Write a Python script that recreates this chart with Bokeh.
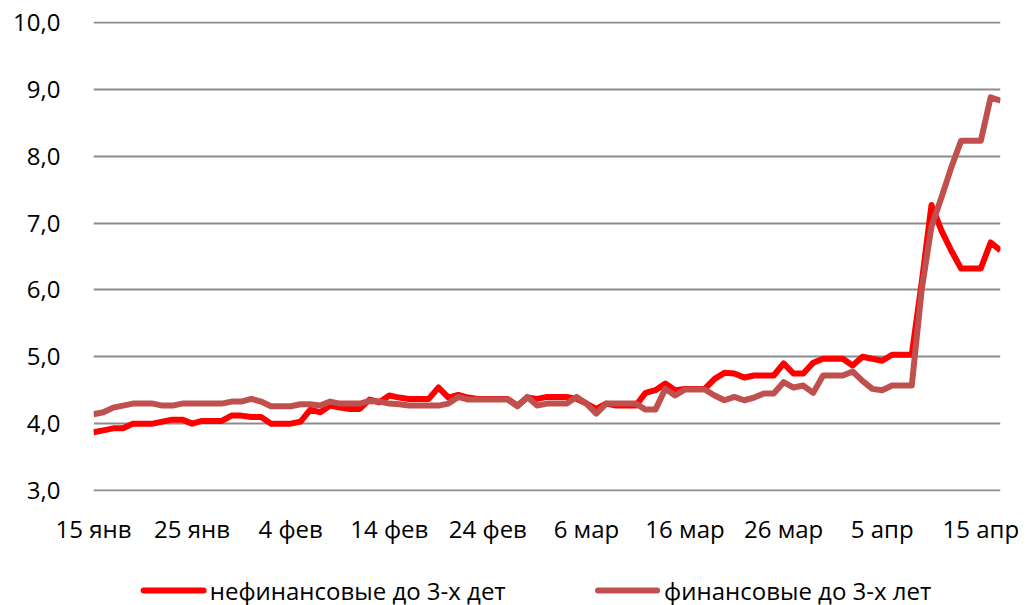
import pandas as pd
from bokeh.plotting import figure
from bokeh.layouts import column
from bokeh.models import FixedTicker, Range1d
from bokeh.core.properties import value
from bokeh.embed import file_html
from bokeh.resources import INLINE

start_date = "2015-01-15"
nonfin = [3.87, 3.90, 3.93, 3.93, 4.00, 4.00, 4.00, 4.03, 4.06, 4.06,
          4.00, 4.04, 4.04, 4.04, 4.12, 4.12, 4.10, 4.10, 4.00, 4.00,
          4.00, 4.03, 4.21, 4.17, 4.27, 4.24, 4.22, 4.22, 4.36, 4.32,
          4.42, 4.39, 4.37, 4.37, 4.37, 4.54, 4.39, 4.43, 4.39, 4.37,
          4.37, 4.37, 4.37, 4.27, 4.39, 4.37, 4.40, 4.40, 4.40, 4.37,
          4.30, 4.22, 4.30, 4.27, 4.27, 4.27, 4.46, 4.50, 4.60, 4.50,
          4.52, 4.52, 4.52, 4.67, 4.76, 4.75, 4.69, 4.72, 4.72, 4.72,
          4.90, 4.75, 4.75, 4.91, 4.97, 4.97, 4.97, 4.87, 5.00, 4.97,
          4.94, 5.03, 5.03, 5.03, 6.10, 7.27, 6.89, 6.59, 6.32, 6.32,
          6.32, 6.71, 6.59]
fin = [4.14, 4.17, 4.24, 4.27, 4.30, 4.30, 4.30, 4.27, 4.27, 4.30,
       4.30, 4.30, 4.30, 4.30, 4.33, 4.33, 4.37, 4.33, 4.26, 4.26,
       4.26, 4.29, 4.29, 4.27, 4.33, 4.30, 4.30, 4.30, 4.34, 4.33,
       4.30, 4.29, 4.27, 4.27, 4.27, 4.27, 4.30, 4.40, 4.36, 4.36,
       4.36, 4.36, 4.36, 4.26, 4.40, 4.27, 4.30, 4.30, 4.30, 4.40,
       4.30, 4.15, 4.30, 4.30, 4.30, 4.30, 4.21, 4.21, 4.52, 4.42,
       4.51, 4.51, 4.51, 4.42, 4.35, 4.40, 4.35, 4.39, 4.45, 4.45,
       4.62, 4.54, 4.57, 4.46, 4.72, 4.72, 4.72, 4.78, 4.64, 4.52,
       4.50, 4.57, 4.57, 4.57, 6.00, 6.95, 7.38, 7.83, 8.23, 8.23,
       8.23, 8.88, 8.83]
tick_dates = ["2015-01-15", "2015-01-25", "2015-02-04", "2015-02-14", "2015-02-24",
              "2015-03-06", "2015-03-16", "2015-03-26", "2015-04-05", "2015-04-15"]
tick_labels = ["15 янв", "25 янв", "4 фев", "14 фев", "24 фев",
               "6 мар", "16 мар", "26 мар", "5 апр", "15 апр"]
y_ticks = [3, 4, 5, 6, 7, 8, 9, 10]
y_labels = ["3,0", "4,0", "5,0", "6,0", "7,0", "8,0", "9,0", "10,0"]
series_names = ["нефинансовые  до 3-х дет", "финансовые до 3-х лет"]
colors = ["#FF0000", "#C0504D"]

dates = pd.date_range(start_date, periods=len(nonfin), freq="D")
x_ms = [d.value / 1e6 for d in dates]
tick_ms = [pd.Timestamp(t).value / 1e6 for t in tick_dates]

FONT = "Open Sans"

p = figure(width=1030, height=555, output_backend="svg", toolbar_location=None,
           x_axis_type="datetime", min_border_left=93, min_border_right=30,
           min_border_top=21, min_border_bottom=64,
           x_range=Range1d(x_ms[0], x_ms[-1]), y_range=Range1d(2.985, 10.015))
p.outline_line_color = None
p.background_fill_color = "white"

p.line(x_ms, nonfin, line_color=colors[0], line_width=6, line_join="round")
p.line(x_ms, fin, line_color=colors[1], line_width=6, line_join="round")

p.xaxis.ticker = FixedTicker(ticks=tick_ms)
p.xaxis.major_label_overrides = {t: l for t, l in zip(tick_ms, tick_labels)}
p.yaxis.ticker = FixedTicker(ticks=y_ticks)
p.yaxis.major_label_overrides = {t: l for t, l in zip(y_ticks, y_labels)}

for ax in (p.xaxis[0], p.yaxis[0]):
    ax.axis_line_color = None
    ax.major_tick_line_color = None
    ax.minor_tick_line_color = None
    ax.major_label_text_font = FONT
    ax.major_label_text_font_size = "24px"
    ax.major_label_text_color = "#000000"
p.yaxis.major_label_standoff = 27
p.xaxis.major_label_standoff = 14

p.xgrid.grid_line_color = None
p.ygrid.grid_line_color = "#8C8C8C"
p.ygrid.grid_line_width = 2

# legend strip below the chart (layout coordinates of the strip)
lf = figure(width=1030, height=50, output_backend="svg", toolbar_location=None,
            x_axis_type=None, y_axis_type=None, min_border=0,
            x_range=Range1d(0, 1030), y_range=Range1d(0, 50))
lf.outline_line_color = None
lf.grid.visible = False
lf.segment(x0=[57, 573], y0=[15, 15], x1=[125, 640], y1=[15, 15],
           line_color=colors, line_width=6, line_cap="round")
lf.text(x=[132, 648], y=[15, 15], text=series_names,
        text_font=value(FONT), text_font_size="24px", text_color="#000000",
        text_align="left", text_baseline="middle")

layout = column(p, lf, spacing=0)
open("out.html", "w").write(file_html(layout, INLINE))
